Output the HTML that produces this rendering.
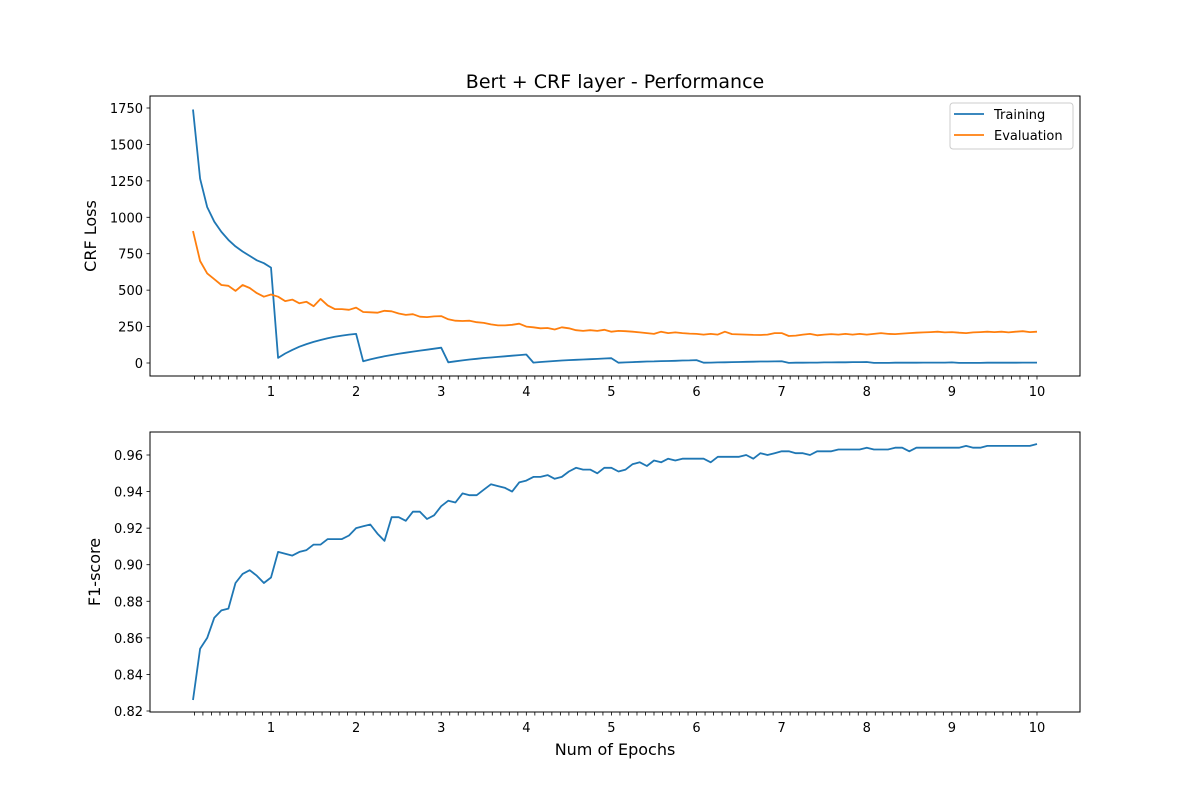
<!DOCTYPE html>
<html><head><meta charset="utf-8"><style>
body{margin:0;background:#fff}
svg{display:block;font-family:"DejaVu Sans","Liberation Sans",sans-serif}
</style></head><body>
<svg id="chart" width="1200" height="800" viewBox="0 0 1200 800" xmlns="http://www.w3.org/2000/svg">
<rect width="1200" height="800" fill="#fff"/>
<text x="615" y="88" font-size="19" text-anchor="middle">Bert + CRF layer - Performance</text>
<g id="topAxes"></g><g id="botAxes"></g>
<text transform="translate(96,236) rotate(-90)" font-size="16" text-anchor="middle">CRF Loss</text>
<text transform="translate(100,572) rotate(-90)" font-size="16" text-anchor="middle">F1-score</text>
<text x="615" y="755" font-size="16" text-anchor="middle">Num of Epochs</text>
<g>
<rect x="950" y="103" width="123" height="46" rx="3" fill="#fff" stroke="#ccc"/>
<line x1="954" y1="114" x2="984" y2="114" stroke="#1f77b4" stroke-width="1.8"/>
<text x="994" y="119" font-size="13">Training</text>
<line x1="954" y1="135" x2="984" y2="135" stroke="#ff7f0e" stroke-width="1.8"/>
<text x="994" y="140" font-size="13">Evaluation</text>
</g>
</svg>
<script>
const trainLoss=[1740,1265,1070,970,900,845,800,765,735,705,685,655,
35,65,90,112,130,145,158,170,180,188,195,200,
12,25,36,46,55,63,71,78,85,91,98,105,
5,12,18,24,29,34,38,42,46,50,54,58,
3,7,10,14,17,20,22,24,26,28,31,33,
2,4,6,8,10,11,13,14,15,17,18,20,
2,3,4,5,6,7,8,9,10,10,11,12,
1,2,2,3,3,4,4,5,5,6,6,7,
1,1,1,2,2,2,2,3,3,3,3,4,
1,1,1,1,2,2,2,2,2,3,3,3];
const evalLoss=[905,700,615,575,535,530,495,535,515,480,455,470,
455,425,435,410,420,390,440,395,370,370,365,380,
350,348,345,358,355,340,330,335,318,315,320,322,
300,290,288,290,280,275,265,258,258,262,270,250,
245,238,240,230,245,238,225,220,225,220,228,215,
220,218,215,210,205,200,215,205,210,205,202,200,
195,200,195,215,198,196,195,193,192,195,205,205,
185,188,195,200,190,195,198,195,200,195,200,195,
200,205,200,198,202,205,208,210,212,215,210,212,
208,205,210,212,215,212,215,210,215,218,212,215];
const f1=[0.826,0.854,0.860,0.871,0.875,0.876,0.890,0.895,0.897,0.894,0.890,0.893,
0.907,0.906,0.905,0.907,0.908,0.911,0.911,0.914,0.914,0.914,0.916,0.920,
0.921,0.922,0.917,0.913,0.926,0.926,0.924,0.929,0.929,0.925,0.927,0.932,
0.935,0.934,0.939,0.938,0.938,0.941,0.944,0.943,0.942,0.940,0.945,0.946,
0.948,0.948,0.949,0.947,0.948,0.951,0.953,0.952,0.952,0.950,0.953,0.953,
0.951,0.952,0.955,0.956,0.954,0.957,0.956,0.958,0.957,0.958,0.958,0.958,
0.958,0.956,0.959,0.959,0.959,0.959,0.960,0.958,0.961,0.960,0.961,0.962,
0.962,0.961,0.961,0.960,0.962,0.962,0.962,0.963,0.963,0.963,0.963,0.964,
0.963,0.963,0.963,0.964,0.964,0.962,0.964,0.964,0.964,0.964,0.964,0.964,
0.964,0.965,0.964,0.964,0.965,0.965,0.965,0.965,0.965,0.965,0.965,0.966];
const xLabels=["1","2","3","4","5","6","7","8","9","10"];
const lossTicks=[0,250,500,750,1000,1250,1500,1750];
const f1Ticks=[0.82,0.84,0.86,0.88,0.90,0.92,0.94,0.96];
const NS="http://www.w3.org/2000/svg";
function X(v){return 271+(v-1)*85.11;}
function Ytop(v){return 363-v*(255/1750);}
function Ybot(v){return 711-(v-0.82)*(256/0.14);}
function mk(tag,attrs,parent){const e=document.createElementNS(NS,tag);for(const k in attrs)e.setAttribute(k,attrs[k]);parent.appendChild(e);return e;}
function axes(g,y0,y1,ticks,Y,fmt,name){
  const fr=mk('rect',{x:150,y:y0,width:930,height:y1-y0,fill:'none',stroke:'#000','stroke-width':1},g);
  
  
  for(let i=1;i<=100;i++){const xv=X(i/10);
    mk('line',{x1:xv,y1:y1,x2:xv,y2:y1+3.5,stroke:'#000','stroke-width':0.8},g);}
  xLabels.forEach((l,i)=>{const t=mk('text',{x:X(i+1),y:y1+20,'font-size':13,'text-anchor':'middle'},g);t.textContent=l;
    
    });
  ticks.forEach(v=>{const yy=Y(v);mk('line',{x1:146.5,y1:yy,x2:150,y2:yy,stroke:'#000','stroke-width':0.8},g);
    const t=mk('text',{x:143,y:yy+5,'font-size':13,'text-anchor':'end'},g);t.textContent=fmt(v);
    
    });
}
function line(g,arr,Y,color,name){
  const pts=arr.map((v,i)=>X((i+1)/12).toFixed(1)+','+Y(v).toFixed(1)).join(' ');
  const p=mk('polyline',{points:pts,fill:'none',stroke:color,'stroke-width':1.8,'stroke-linejoin':'round'},g);
  
  
}
const topG=document.getElementById('topAxes'),botG=document.getElementById('botAxes');
axes(topG,96,376,lossTicks,Ytop,v=>String(v),'loss-axes');
axes(botG,432,712,f1Ticks,Ybot,v=>v.toFixed(2),'f1-axes');
line(topG,trainLoss,Ytop,'#1f77b4','training-loss-line');
line(topG,evalLoss,Ytop,'#ff7f0e','evaluation-loss-line');
line(botG,f1,Ybot,'#1f77b4','f1-score-line');
</script>
</body></html>
